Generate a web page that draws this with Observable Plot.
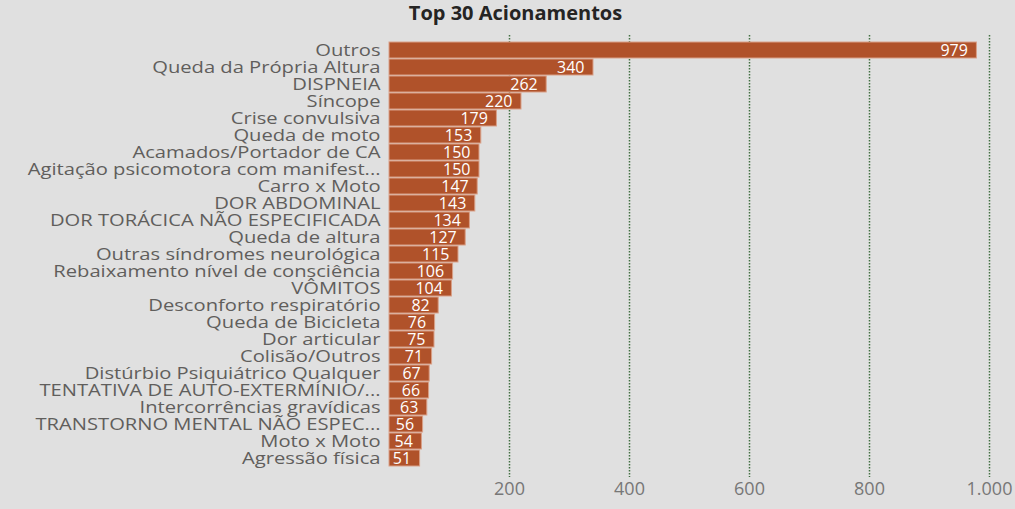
<!DOCTYPE html>
<html><head><meta charset="utf-8">
<script src="https://cdn.jsdelivr.net/npm/d3@7"></script>
<script src="https://cdn.jsdelivr.net/npm/@observablehq/plot@0.6"></script>
<style>
html,body{margin:0;padding:0;background:#e0e0e0;width:1015px;height:509px;overflow:hidden}
#title{height:26px;line-height:25px;text-align:center;font-weight:bold;font-size:20px;font-family:"Open Sans",sans-serif;color:#252423;padding-left:16px;box-sizing:border-box}
#chart svg{display:block}
</style></head><body>
<div id="title">Top 30 Acionamentos</div>
<div id="chart"></div>
<script>
const categories = [
  "Outros",
  "Queda da Própria Altura",
  "DISPNEIA",
  "Síncope",
  "Crise convulsiva",
  "Queda de moto",
  "Acamados/Portador de CA",
  "Agitação psicomotora com manifest...",
  "Carro x Moto",
  "DOR ABDOMINAL",
  "DOR TORÁCICA NÃO ESPECIFICADA",
  "Queda de altura",
  "Outras síndromes neurológica",
  "Rebaixamento nível de consciência",
  "VÔMITOS",
  "Desconforto respiratório",
  "Queda de Bicicleta",
  "Dor articular",
  "Colisão/Outros",
  "Distúrbio Psiquiátrico Qualquer",
  "TENTATIVA DE AUTO-EXTERMÍNIO/...",
  "Intercorrências gravídicas",
  "TRANSTORNO MENTAL NÃO ESPEC...",
  "Moto x Moto",
  "Agressão física"
];
const values = [979, 340, 262, 220, 179, 153, 150, 150, 147, 143, 134, 127, 115, 106, 104, 82, 76, 75, 71, 67, 66, 63, 56, 54, 51];
const xTicks = [200, 400, 600, 800, 1000];

const data = categories.map((c, i) => ({category: c, value: values[i]}));
const fmt = d3.formatLocale({decimal: ",", thousands: ".", grouping: [3], currency: ["", ""]}).format(",d");

const chart = Plot.plot({
  width: 1015,
  height: 483,
  marginLeft: 389,
  marginRight: 26,
  marginTop: 9,
  marginBottom: 32,
  style: {background: "transparent", fontFamily: "'Open Sans', sans-serif"},
  x: {domain: [0, 1000]},
  y: {domain: categories, paddingInner: 0.08, paddingOuter: 0.54, align: 0.4},
  marks: [
    Plot.gridX(xTicks, {stroke: "#426f42", strokeOpacity: 1, strokeWidth: 1.5, strokeDasharray: "1.5,1.5"}),
    Plot.axisX(xTicks, {tickSize: 0, tickPadding: 5, tickFormat: fmt, fontSize: 18, fill: "#777", label: null}),
    Plot.axisY({tickSize: 0, tickPadding: 9, fontSize: 16, fill: "#605e5c", label: null}),
    Plot.barX(data, {x: "value", y: "category", fill: "#b0522a", stroke: "#d9a088", strokeWidth: 1}),
    Plot.text(data, {x: "value", y: "category", text: d => fmt(d.value), textAnchor: "end", dx: -9, fill: "#ffffff", fontSize: 16})
  ]
});
document.getElementById("chart").appendChild(chart);

// widen category labels horizontally to match the reference's wide lettering
chart.querySelectorAll('g[aria-label="y-axis tick label"] text').forEach(t => {
  const len = t.getComputedTextLength();
  t.setAttribute("textLength", (len * 1.26).toFixed(1));
  t.setAttribute("lengthAdjust", "spacingAndGlyphs");
});
</script>
</body></html>
